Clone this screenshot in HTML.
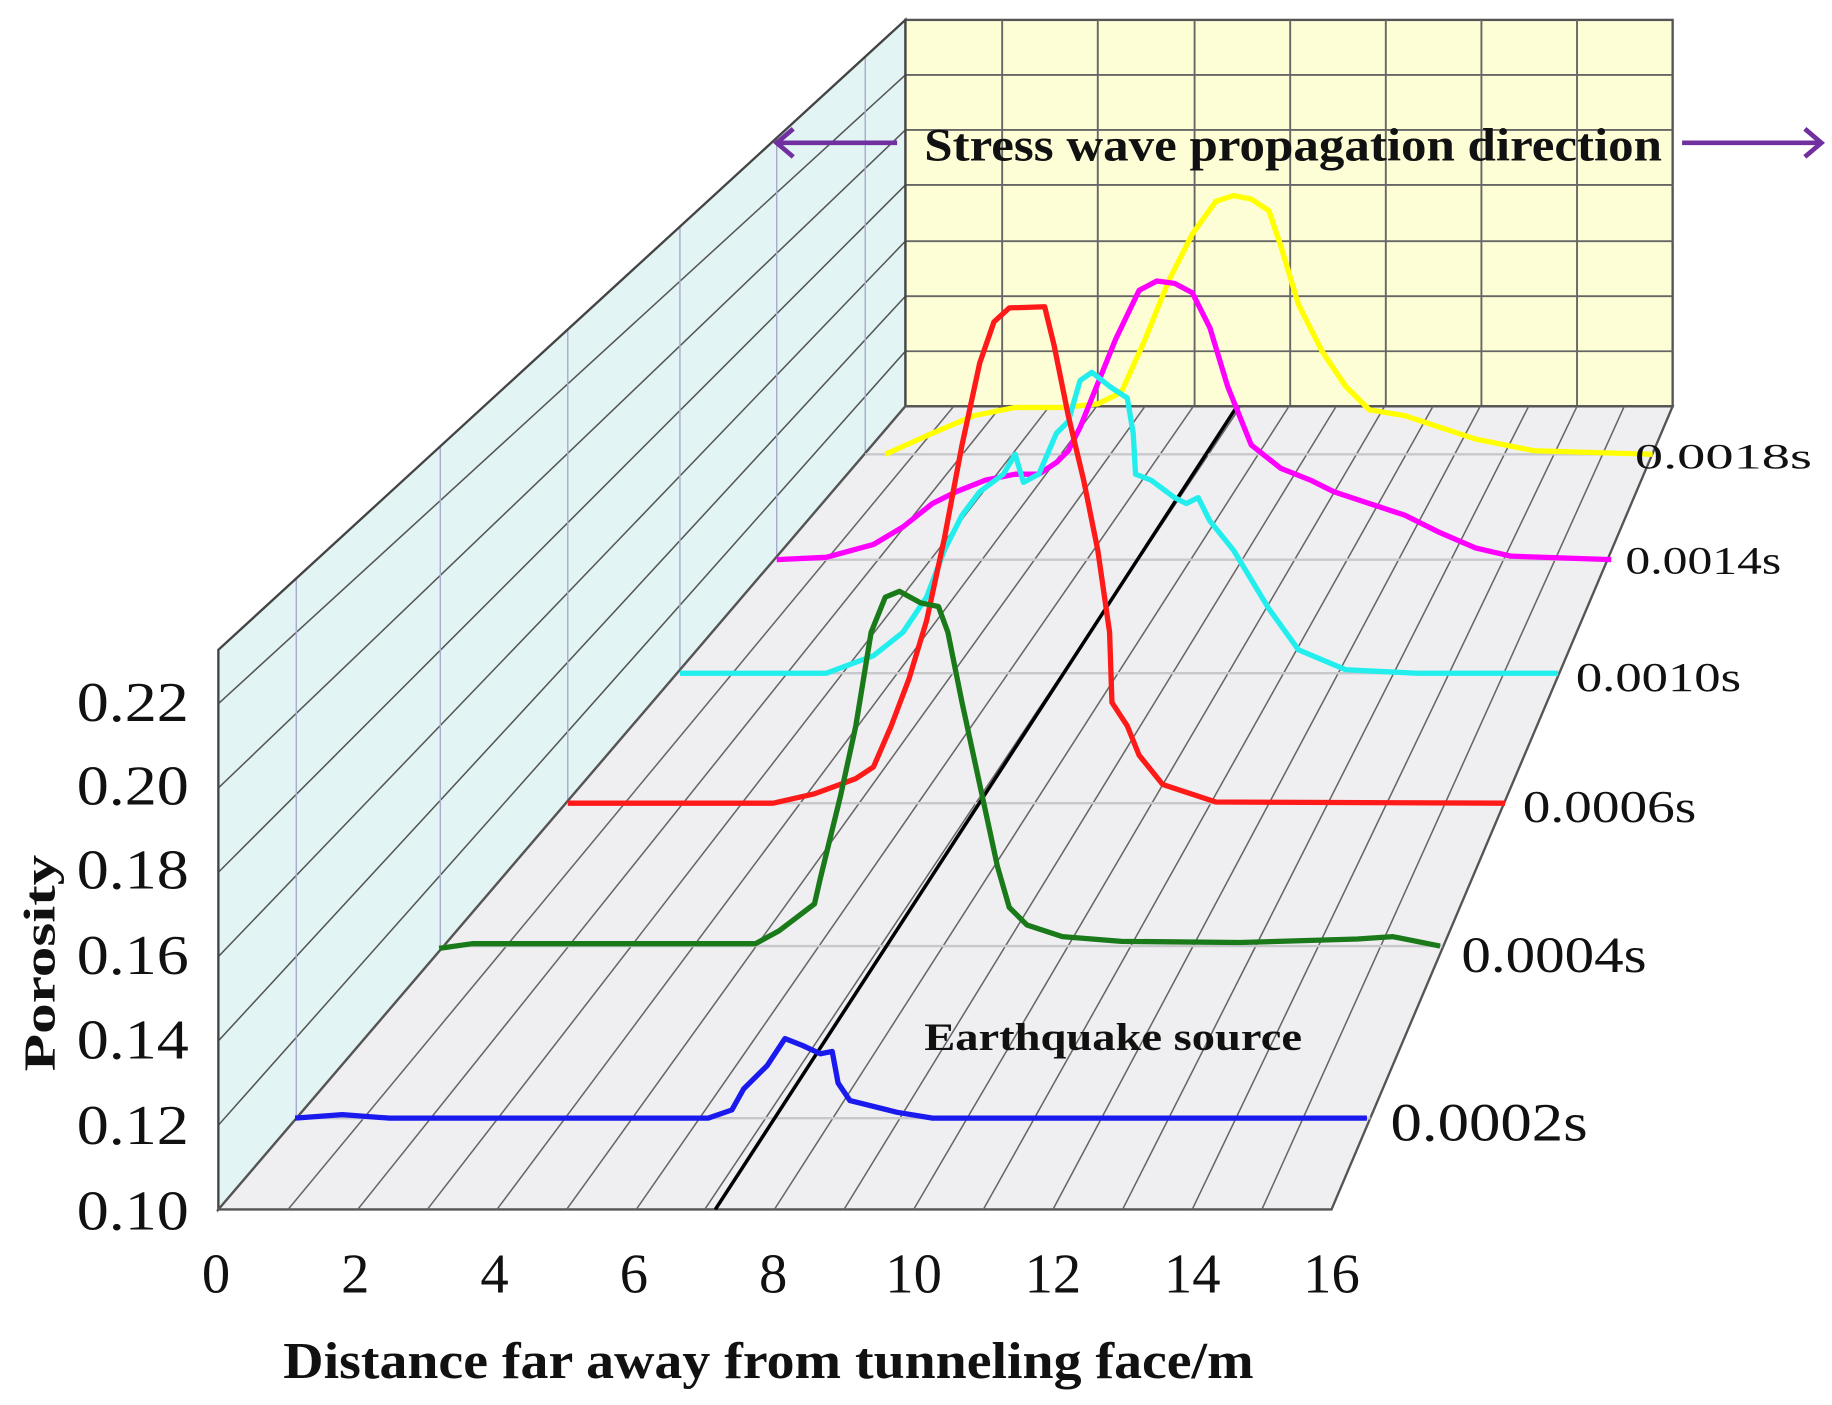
<!DOCTYPE html>
<html><head><meta charset="utf-8"><style>html,body{margin:0;padding:0;background:#fff}svg{display:block}</style></head>
<body>
<svg width="1832" height="1405" viewBox="0 0 1552 1200" preserveAspectRatio="none" xmlns="http://www.w3.org/2000/svg">
<defs>
<clipPath id="wall"><polygon points="185,555 767,17 767,347 185,1033"/></clipPath>
</defs>
<rect width="1552" height="1200" fill="#fff"/>
<rect x="767" y="17" width="650" height="330" fill="#fdfdd6" stroke="#555" stroke-width="2"/>
<g stroke="#666" stroke-width="1.6">
<line x1="849" y1="17" x2="849" y2="347"/><line x1="930" y1="17" x2="930" y2="347"/><line x1="1012" y1="17" x2="1012" y2="347"/><line x1="1093" y1="17" x2="1093" y2="347"/><line x1="1174" y1="17" x2="1174" y2="347"/><line x1="1255" y1="17" x2="1255" y2="347"/><line x1="1336" y1="17" x2="1336" y2="347"/>
<line x1="767" y1="64" x2="1417" y2="64"/><line x1="767" y1="111" x2="1417" y2="111"/><line x1="767" y1="158" x2="1417" y2="158"/><line x1="767" y1="206" x2="1417" y2="206"/><line x1="767" y1="253" x2="1417" y2="253"/><line x1="767" y1="300" x2="1417" y2="300"/>
</g>
<polygon points="185,555 767,17 767,347 185,1033" fill="#e2f4f4"/>
<g clip-path="url(#wall)" stroke="#555" stroke-width="1.3">
<line x1="185" y1="1177" x2="767" y2="441"/><line x1="185" y1="1105" x2="767" y2="394"/>
<line x1="185" y1="1033" x2="767" y2="347"/><line x1="185" y1="961" x2="767" y2="300"/><line x1="185" y1="889" x2="767" y2="253"/><line x1="185" y1="817" x2="767" y2="206"/><line x1="185" y1="745" x2="767" y2="158"/><line x1="185" y1="673" x2="767" y2="111"/><line x1="185" y1="601" x2="767" y2="64"/>
<g stroke="#aac" stroke-width="1.2">
<line x1="251" y1="955" x2="251" y2="494"/><line x1="373" y1="808" x2="373" y2="381"/><line x1="481" y1="686" x2="481" y2="282"/><line x1="576" y1="575" x2="576" y2="194"/><line x1="658" y1="478" x2="658" y2="118"/><line x1="733" y1="388" x2="733" y2="48"/>
</g>
</g>
<polygon points="185,555 767,17 767,347 185,1033" fill="none" stroke="#444" stroke-width="2"/>
<polygon points="767,347 1417,347 1128,1033 185,1033" fill="#efeff1" stroke="#555" stroke-width="2"/>
<g stroke="#666" stroke-width="1.3">
<line x1="244" y1="1033" x2="808" y2="347"/><line x1="303" y1="1033" x2="848" y2="347"/><line x1="362" y1="1033" x2="889" y2="347"/><line x1="421" y1="1033" x2="929" y2="347"/><line x1="480" y1="1033" x2="970" y2="347"/><line x1="539" y1="1033" x2="1011" y2="347"/><line x1="597" y1="1033" x2="1051" y2="347"/><line x1="656" y1="1033" x2="1092" y2="347"/><line x1="715" y1="1033" x2="1132" y2="347"/><line x1="774" y1="1033" x2="1173" y2="347"/><line x1="833" y1="1033" x2="1214" y2="347"/><line x1="892" y1="1033" x2="1254" y2="347"/><line x1="951" y1="1033" x2="1295" y2="347"/><line x1="1010" y1="1033" x2="1336" y2="347"/><line x1="1069" y1="1033" x2="1376" y2="347"/>
</g>
<g stroke="#c8c8cc" stroke-width="2">
<line x1="251" y1="955" x2="1161" y2="955"/><line x1="373" y1="808" x2="1222" y2="808"/><line x1="481" y1="686" x2="1273" y2="686"/><line x1="576" y1="575" x2="1320" y2="575"/><line x1="658" y1="478" x2="1362" y2="478"/><line x1="733" y1="388" x2="1400" y2="388"/>
</g>
<line x1="606" y1="1033" x2="1048" y2="347" stroke="#000" stroke-width="3"/>
<g fill="none" stroke-width="4.5" stroke-linejoin="round">
<polyline stroke="#ffff00" points="750,388 790,370 825,355 860,348 900,348 930,345 950,335 970,290 990,240 1010,200 1030,172 1045,167 1060,170 1075,180 1085,210 1100,260 1120,300 1140,330 1160,350 1190,355 1220,365 1250,375 1300,385 1400,388"/>
<polyline stroke="#ff00ff" points="658,478 700,476 740,465 765,450 790,430 810,420 835,410 860,405 880,405 895,395 905,385 915,365 925,340 945,290 965,248 980,240 995,242 1010,250 1025,280 1040,330 1060,380 1085,400 1110,410 1130,420 1160,430 1190,440 1220,455 1250,468 1280,475 1365,478"/>
<polyline stroke="#22eeee" points="576,575 700,575 740,560 765,540 785,510 800,470 815,440 830,420 850,405 860,388 867,412 880,405 895,370 905,360 915,325 925,318 940,330 955,340 960,370 962,405 975,410 995,425 1005,430 1015,425 1025,445 1045,470 1075,520 1100,555 1140,572 1200,575 1320,575"/>
<polyline stroke="#ff1a1a" points="481,686 655,686 690,678 725,665 740,655 755,620 770,580 785,530 800,460 815,380 830,310 842,275 855,263 885,262 893,295 905,355 918,410 930,470 940,540 942,600 955,620 965,645 985,670 1030,685 1275,686"/>
<polyline stroke="#1a7a1a" points="372,810 400,806 640,806 660,795 690,772 695,750 712,680 725,620 738,540 750,510 762,505 780,515 795,518 803,540 815,600 830,670 845,740 855,775 870,790 900,800 950,804 1050,805 1150,802 1180,800 1220,808"/>
<polyline stroke="#1a1aee" points="250,955 290,952 330,955 600,955 620,948 630,930 650,910 665,887 680,893 695,900 705,898 710,925 720,940 760,950 790,955 1158,955"/>
</g>
<g stroke="#7030a0" stroke-width="4" fill="none">
<line x1="760" y1="122" x2="658" y2="122"/><polyline points="672,110 658,122 672,134"/>
<line x1="1425" y1="122" x2="1543" y2="122"/><polyline points="1529,110 1543,122 1529,134"/>
</g>
<g font-family="Liberation Serif, serif" fill="#111">
<text x="783" y="137" font-size="40" font-weight="bold" textLength="625" lengthAdjust="spacingAndGlyphs">Stress wave propagation direction</text>
<text x="783" y="897" font-size="33" font-weight="bold" textLength="320" lengthAdjust="spacingAndGlyphs">Earthquake source</text>
<text x="240" y="1177" font-size="44" font-weight="bold" textLength="822" lengthAdjust="spacingAndGlyphs">Distance far away from tunneling face/m</text>
<text transform="translate(46,915) rotate(-90)" font-size="38" font-weight="bold" textLength="185" lengthAdjust="spacingAndGlyphs">Porosity</text>
<g font-size="48">
<text x="65" y="616" textLength="95" lengthAdjust="spacingAndGlyphs">0.22</text><text x="65" y="687" textLength="95" lengthAdjust="spacingAndGlyphs">0.20</text><text x="65" y="759" textLength="95" lengthAdjust="spacingAndGlyphs">0.18</text><text x="65" y="832" textLength="95" lengthAdjust="spacingAndGlyphs">0.16</text><text x="65" y="904" textLength="95" lengthAdjust="spacingAndGlyphs">0.14</text><text x="65" y="977" textLength="95" lengthAdjust="spacingAndGlyphs">0.12</text><text x="65" y="1050" textLength="95" lengthAdjust="spacingAndGlyphs">0.10</text>
</g>
<g font-size="48" text-anchor="middle">
<text x="183" y="1104">0</text><text x="301" y="1104">2</text><text x="419" y="1104">4</text><text x="537" y="1104">6</text><text x="655" y="1104">8</text><text x="774" y="1104">10</text><text x="892" y="1104">12</text><text x="1010" y="1104">14</text><text x="1128" y="1104">16</text>
</g>
<text x="1385" y="400" font-size="31" textLength="150" lengthAdjust="spacingAndGlyphs">0.0018s</text>
<text x="1377" y="490" font-size="33" textLength="132" lengthAdjust="spacingAndGlyphs">0.0014s</text>
<text x="1335" y="590" font-size="35" textLength="140" lengthAdjust="spacingAndGlyphs">0.0010s</text>
<text x="1290" y="702" font-size="39" textLength="147" lengthAdjust="spacingAndGlyphs">0.0006s</text>
<text x="1238" y="830" font-size="43" textLength="157" lengthAdjust="spacingAndGlyphs">0.0004s</text>
<text x="1178" y="974" font-size="46" textLength="167" lengthAdjust="spacingAndGlyphs">0.0002s</text>
</g>
</svg>
</body></html>
